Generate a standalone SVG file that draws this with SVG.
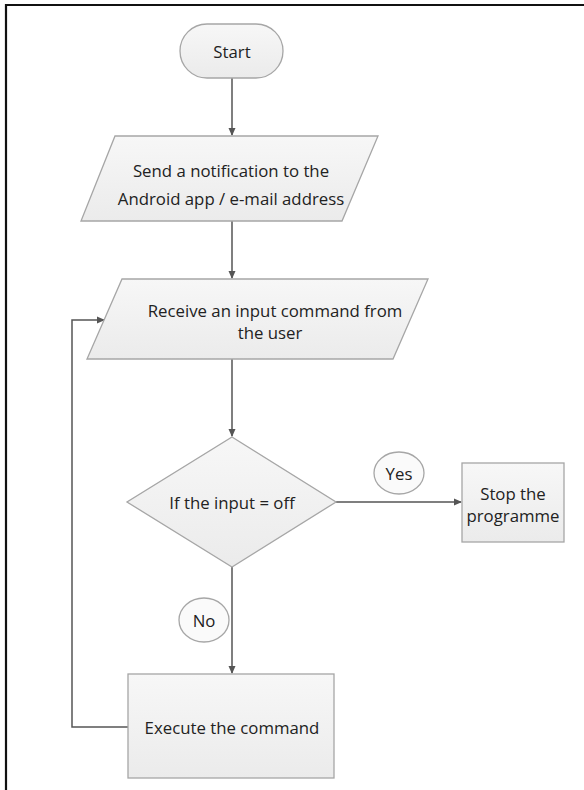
<svg xmlns="http://www.w3.org/2000/svg" width="584" height="790" viewBox="0 0 584 790">
<defs>
<linearGradient id="g" x1="0" y1="0" x2="0" y2="1">
<stop offset="0" stop-color="#f7f7f7"/>
<stop offset="1" stop-color="#ebebeb"/>
</linearGradient>
<marker id="ah" markerWidth="8" markerHeight="8" refX="7" refY="4" orient="auto" markerUnits="userSpaceOnUse">
<path d="M0,0.5 L8,4 L0,7.5 Z" fill="#555"/>
</marker>
<style>
.shape{fill:url(#g);stroke:#a6a6a6;stroke-width:1.3}
.lbl{fill:#fafafa;stroke:#a6a6a6;stroke-width:1.3}
.t{font-family:"Open Sans","Liberation Sans",sans-serif;font-size:16.8px;fill:#222;text-anchor:middle;dominant-baseline:central}
.c{fill:none;stroke:#555;stroke-width:1.5}
</style>
</defs>
<rect width="584" height="790" fill="#fff"/>
<path d="M6,790 V5 H584" fill="none" stroke="#111" stroke-width="2.2"/>

<g id="connectors">
<path class="c" d="M232,78 V135" marker-end="url(#ah)"/>
<path class="c" d="M232,221 V278" marker-end="url(#ah)"/>
<path class="c" d="M232,359 V436" marker-end="url(#ah)"/>
<path class="c" d="M336,502 H461" marker-end="url(#ah)"/>
<path class="c" d="M232,567 V673" marker-end="url(#ah)"/>
<path class="c" d="M128,727 H72 V320 H104" marker-end="url(#ah)"/>
</g>

<g id="start">
<rect class="shape" x="180" y="24" width="103" height="54" rx="27" ry="27"/>
<text class="t" x="232" y="51">Start</text>
</g>

<g id="notify">
<polygon class="shape" points="115,136 378,136 342,221 81,221"/>
<text class="t" x="231" y="170">Send a notification to the</text>
<text class="t" x="231" y="198">Android app / e-mail address</text>
</g>

<g id="receive">
<polygon class="shape" points="122,279 428,279 393,359 87,359"/>
<text class="t" x="275" y="310">Receive an input command from</text>
<text class="t" x="270" y="332">the user</text>
</g>

<g id="decision">
<polygon class="shape" points="232,437 336,502 232,567 127,502"/>
<text class="t" x="232" y="502">If the input = off</text>
</g>

<g id="yes">
<ellipse class="lbl" cx="399" cy="473" rx="25" ry="21"/>
<text class="t" x="399" y="473">Yes</text>
</g>

<g id="stop">
<rect class="shape" x="462" y="463" width="102" height="79"/>
<text class="t" x="513" y="493">Stop the</text>
<text class="t" x="513" y="515">programme</text>
</g>

<g id="no">
<ellipse class="lbl" cx="204" cy="620" rx="25" ry="22"/>
<text class="t" x="204" y="620">No</text>
</g>

<g id="execute">
<rect class="shape" x="128" y="674" width="206" height="104"/>
<text class="t" x="232" y="727">Execute the command</text>
</g>
</svg>
